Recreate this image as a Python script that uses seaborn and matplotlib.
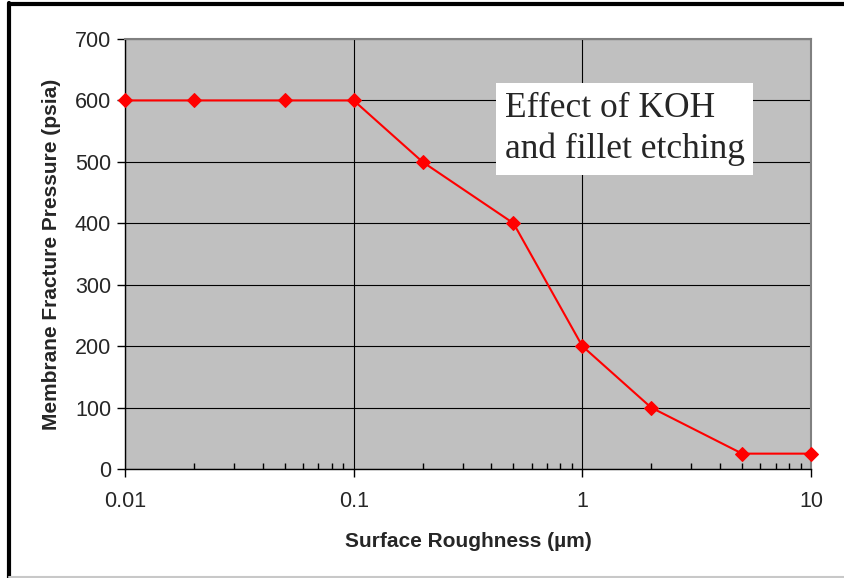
import matplotlib
matplotlib.use("Agg")
import matplotlib.pyplot as plt
import seaborn as sns
import pandas as pd
from matplotlib.ticker import LogLocator, FixedLocator, NullFormatter
from matplotlib.lines import Line2D

roughness = [0.01, 0.02, 0.05, 0.1, 0.2, 0.5, 1, 2, 5, 10]
pressure = [600, 600, 600, 600, 500, 400, 200, 100, 25, 25]
x_ticks = [0.01, 0.1, 1, 10]
x_tick_labels = ["0.01", "0.1", "1", "10"]
y_ticks = [0, 100, 200, 300, 400, 500, 600, 700]

sns.set_theme(style="white")
plt.rcParams['font.family'] = ['Liberation Sans', 'DejaVu Sans']

df = pd.DataFrame({"x": roughness, "y": pressure})

fig = plt.figure(figsize=(8.45, 5.78), dpi=100)
ax = fig.add_axes([125/845, 1-469/578, (811-125)/845, (469-39)/578])
ax.set_facecolor("#c0c0c0")

sns.lineplot(data=df, x="x", y="y", ax=ax, color="#ff0000", lw=1.5,
             marker="D", markersize=7, markeredgecolor="#ff0000", clip_on=False, zorder=5)

ax.set_xscale("log")
ax.set_xlim(0.01, 10)
ax.set_ylim(0, 700)
ax.xaxis.set_major_locator(FixedLocator(x_ticks))
ax.set_xticklabels(x_tick_labels)
ax.xaxis.set_minor_locator(LogLocator(base=10, subs=range(2, 10)))
ax.xaxis.set_minor_formatter(NullFormatter())
ax.set_yticks(y_ticks)

ax.grid(True, which="major", color="black", lw=0.8)
ax.set_axisbelow(True)

for s in ["top", "right"]:
    ax.spines[s].set_color("#808080")
    ax.spines[s].set_linewidth(1.5)
for s in ["left", "bottom"]:
    ax.spines[s].set_color("black")
    ax.spines[s].set_linewidth(1.0)

ax.tick_params(axis="x", which="major", direction="out", length=6, width=1, color="black",
               labelsize=15.5, pad=10, bottom=True)
ax.tick_params(axis="x", which="minor", direction="in", length=4, width=1, color="black", bottom=True)
ax.tick_params(axis="y", which="major", direction="out", length=6, width=1, color="black",
               labelsize=15.5, pad=4, left=True)

ax.set_xlabel("Surface Roughness (µm)", fontsize=15, fontweight="bold", labelpad=14)
ax.set_ylabel("Membrane Fracture Pressure (psia)", fontsize=15, fontweight="bold", labelpad=10)

ax.text(0.5535, 0.79, "Effect of KOH\nand fillet etching", transform=ax.transAxes,
        fontsize=25.5, family=["Liberation Serif", "DejaVu Serif"], va="center", ha="left",
        linespacing=1.3,
        bbox=dict(facecolor="white", edgecolor="none", boxstyle="square,pad=0.25"), zorder=6)

# figure frame
fig.add_artist(Line2D([9/845, 9/845], [0, 1 - 3/578], transform=fig.transFigure, color="black", lw=3))
fig.add_artist(Line2D([9/845, 1], [1 - 4/578, 1 - 4/578], transform=fig.transFigure, color="black", lw=3))
fig.add_artist(Line2D([9/845, 1], [1/578, 1/578], transform=fig.transFigure, color="#c8c8c8", lw=1.5))

fig.savefig("out.png", dpi=100)
